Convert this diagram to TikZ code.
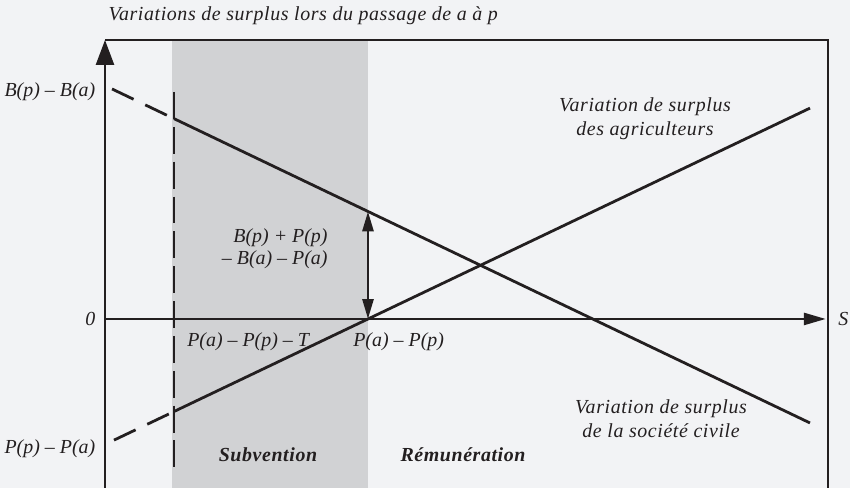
\documentclass[tikz,border=0pt]{standalone}
\usepackage{fontspec}
\setmainfont{Liberation Serif}
\usetikzlibrary{arrows.meta}
\definecolor{fond}{HTML}{F2F3F5}
\definecolor{zone}{HTML}{D1D2D4}
\definecolor{trait}{HTML}{231F20}

\begin{document}
\begin{tikzpicture}[
	axe/.style={draw=trait, line width=1.3pt},
	courbe/.style={draw=trait, line width=1.4pt},
	tirets/.style={draw=trait, line width=1.4pt, dash pattern=on 12pt off 6.5pt},
	lib/.style={font=\itshape\fontsize{10}{11}\selectfont, text=trait, inner sep=1pt},
	mots/.style={lib, font=\itshape\fontsize{10}{12}\selectfont\addfontfeature{LetterSpace=3}},
	zonelib/.style={font=\bfseries\itshape\fontsize{10}{11}\selectfont\addfontfeature{LetterSpace=3}, text=trait},
	]
	\fill[fond] (-1.853,-2.982) rectangle (13.147,5.629);
	\useasboundingbox (-1.853,-2.982) rectangle (13.147,5.629);
	\fill[zone] (1.182,-2.982) rectangle (4.641,4.923);

	\coordinate (O) at (0,0);
	\coordinate (ybas) at (0,-2.982);
	\coordinate (yhaut) at (0,4.923);
	\coordinate (xfin) at (12.72,0);
	\coordinate (cadreHD) at (12.759,4.923);
	\coordinate (cadreBD) at (12.759,-2.982);
	% surplus de la societe civile
	\coordinate (sc0) at (0.124,4.059);
	\coordinate (sc1) at (1.218,3.535);
	\coordinate (sc2) at (12.441,-1.835);
	% surplus des agriculteurs
	\coordinate (ag0) at (0.159,-2.138);
	\coordinate (ag1) at (1.218,-1.633);
	\coordinate (ag2) at (12.441,3.721);
	\coordinate (vhaut) at (1.218,4.006);
	\coordinate (vbas) at (1.218,-2.629);
	\coordinate (dhaut) at (4.641,1.898);
	\coordinate (dbas) at (4.641,0);

	\draw[axe, -{Triangle[width=9pt,length=12.5pt]}] (ybas) -- (yhaut);
	\draw[axe] (yhaut) -- (cadreHD) -- (cadreBD);
	\draw[axe, -{Triangle[width=6pt,length=11pt]}] (O) -- (xfin);

	\draw[draw=trait, line width=1.3pt, dash pattern=on 13.5pt off 4pt] (vhaut) -- (vbas);
	\draw[tirets] (sc0) -- (sc1);
	\draw[courbe] (sc1) -- (sc2);
	\draw[tirets] (ag0) -- (ag1);
	\draw[courbe] (ag1) -- (ag2);
	\draw[courbe, {Triangle[width=5.5pt,length=10pt]}-{Triangle[width=5.5pt,length=10pt]}] (dhaut) -- (dbas);

	\node[mots, anchor=west] (titre) at (0.02,5.347) {Variations de surplus lors du passage de a à p};
	\node[lib, anchor=east] (lBB) at (-0.13,4.006) {B(p) – B(a)};
	\node[lib, anchor=east] (lzero) at (-0.13,0) {0};
	\node[lib, anchor=east] (lPP) at (-0.13,-2.294) {P(p) – P(a)};
	\node[lib, anchor=west] (lPPT) at (1.41,-0.406) {P(a) – P(p) – T};
	\node[lib, anchor=west] (lPa) at (4.34,-0.406) {P(a) – P(p)};
	\node[lib, anchor=east, align=right] (ldiff) at (3.97,1.235) {B(p) + P(p)\\– B(a) – P(a)};
	\node[mots, align=center] (lagri) at (9.529,3.53) {Variation de surplus\\des agriculteurs};
	\node[mots, align=center] (lsoc) at (9.812,-1.765) {Variation de surplus\\de la société civile};
	\node[lib, anchor=west] (lS) at (12.9,0) {S};
	\node[zonelib] (lsub) at (2.876,-2.4) {Subvention};
	\node[zonelib] (lrem) at (6.318,-2.4) {Rémunération};
\end{tikzpicture}
\end{document}
